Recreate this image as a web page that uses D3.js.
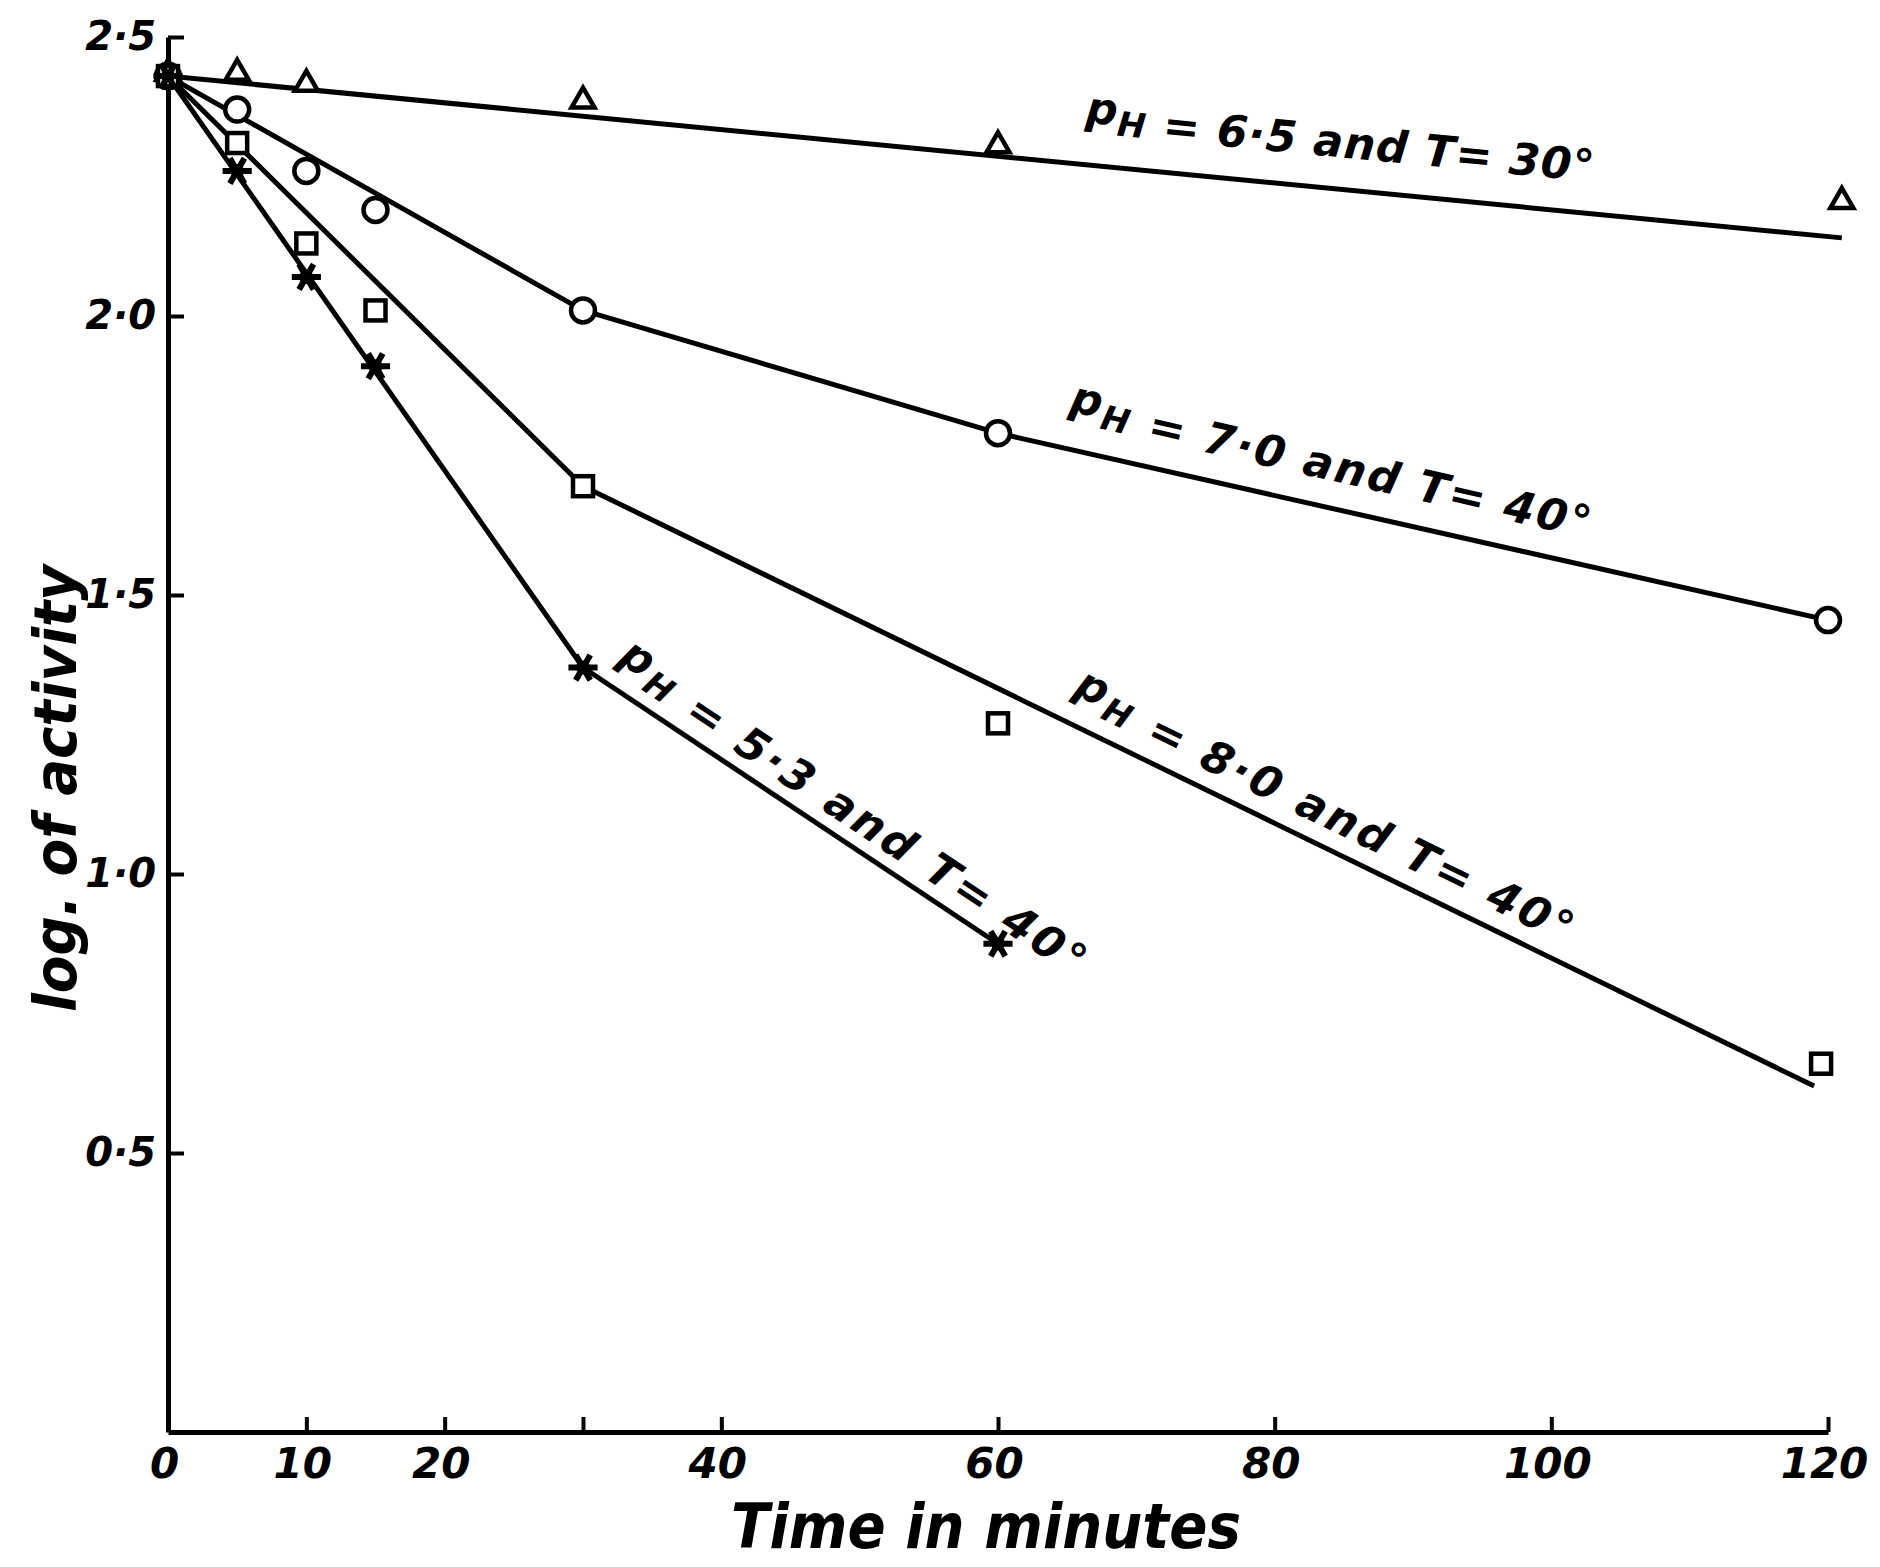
<!DOCTYPE html>
<html>
<head>
<meta charset="utf-8">
<script src="https://cdn.jsdelivr.net/npm/d3@7"></script>
<style>
  body { margin: 0; background: #fff; }
  svg { display: block; }
  text { font-family: "DejaVu Sans", sans-serif; font-style: italic; font-weight: bold; fill: #000; }
</style>
</head>
<body>
<svg id="chart" width="1880" height="1567"></svg>
<script>
// x ticks / labels
const xTicks = [0, 10, 20, 30, 40, 60, 80, 100, 120];
const xLabelled = [0, 10, 20, 40, 60, 80, 100, 120];
const yTicks = [0.5, 1.0, 1.5, 2.0, 2.5];

// measured points (time in minutes, log of activity)
const tri = [[0, 2.43], [5, 2.43], [10, 2.41], [30, 2.38], [60, 2.30], [121, 2.20]];
const circ = [[0, 2.43], [5, 2.37], [10, 2.26], [15, 2.19], [30, 2.01], [60, 1.79], [120, 1.455]];
const sq = [[0, 2.43], [5, 2.31], [10, 2.13], [15, 2.01], [30, 1.695], [60, 1.27], [119.5, 0.66]];
const star = [[0, 2.43], [5, 2.26], [10, 2.07], [15, 1.91], [30, 1.37], [60, 0.875]];

// drawn lines through the points
const triFit = [[0, 2.43], [121, 2.14]];
const circFit = [[0, 2.43], [30, 2.01], [60, 1.79], [120, 1.455]];
const sqFit = [[0, 2.43], [30, 1.695], [119, 0.62]];
const starFit = [[0, 2.43], [30, 1.37], [60, 0.875]];

// curve labels
const labelPH = ["6·5", "7·0", "8·0", "5·3"];
const labelT = ["30°", "40°", "40°", "40°"];

(function() {
  const svg = d3.select("#chart");

  const x = d3.scaleLinear().domain([0, 120]).range([168, 1828]);
  const y = d3.scaleLinear().domain([0, 2.5]).range([1432, 37]);

  const fmt = d => d === 0 ? "0" : d3.format(".1f")(d).replace(".", "·");

  // axes
  const xAxis = d3.axisBottom(x)
    .tickValues(xTicks)
    .tickSizeInner(-15).tickSizeOuter(0).tickPadding(16)
    .tickFormat(d => xLabelled.includes(d) ? d : "");
  const gx = svg.append("g").attr("transform", `translate(0,${y(0)})`).call(xAxis);
  gx.select(".domain").attr("stroke-width", 5);
  gx.selectAll(".tick line").attr("stroke-width", 4);
  gx.selectAll(".tick text").attr("font-size", 42).attr("font-family", null).attr("dx", -4);

  const yAxis = d3.axisLeft(y)
    .tickValues(yTicks)
    .tickSizeInner(-16).tickSizeOuter(0).tickPadding(12)
    .tickFormat(fmt);
  const gy = svg.append("g").attr("transform", `translate(${x(0)},0)`).call(yAxis);
  gy.select(".domain").attr("stroke-width", 5);
  gy.selectAll(".tick line").attr("stroke-width", 4);
  gy.selectAll(".tick text").attr("font-size", 40).attr("font-family", null);

  // axis titles
  svg.append("text")
    .attr("x", 731).attr("y", 1548)
    .attr("font-size", 62)
    .attr("textLength", 510).attr("lengthAdjust", "spacingAndGlyphs")
    .text("Time in minutes");

  svg.append("text")
    .attr("transform", "translate(76,1012) rotate(-90)")
    .attr("font-size", 58)
    .attr("textLength", 447).attr("lengthAdjust", "spacingAndGlyphs")
    .text("log. of activity");

  // lines
  const line = d3.line().x(d => x(d[0])).y(d => y(d[1]));
  const fits = [triFit, circFit, sqFit, starFit];
  svg.append("g").selectAll("path")
    .data(fits)
    .join("path")
    .attr("d", line)
    .attr("fill", "none")
    .attr("stroke", "#000")
    .attr("stroke-width", 5)
    .attr("stroke-linejoin", "round");

  // markers
  const mk = svg.append("g");
  mk.selectAll(".tri").data(tri).join("path")
    .attr("transform", d => `translate(${x(d[0])},${y(d[1]) - 3})`)
    .attr("d", d3.symbol(d3.symbolTriangle, 230))
    .attr("fill", "#fff").attr("stroke", "#000").attr("stroke-width", 4.5);
  mk.selectAll(".circ").data(circ).join("circle")
    .attr("cx", d => x(d[0])).attr("cy", d => y(d[1])).attr("r", 12)
    .attr("fill", "#fff").attr("stroke", "#000").attr("stroke-width", 4.5);
  mk.selectAll(".sq").data(sq).join("rect")
    .attr("x", d => x(d[0]) - 10).attr("y", d => y(d[1]) - 10)
    .attr("width", 20).attr("height", 20)
    .attr("fill", "#fff").attr("stroke", "#000").attr("stroke-width", 4.5);
  mk.selectAll(".star").data(star).join("path")
    .attr("transform", d => `translate(${x(d[0])},${y(d[1])}) rotate(30)`)
    .attr("d", d3.symbol(d3.symbolAsterisk, 600))
    .attr("fill", "none").attr("stroke", "#000").attr("stroke-width", 6);
  mk.selectAll(".starc").data(star).join("circle")
    .attr("cx", d => x(d[0])).attr("cy", d => y(d[1])).attr("r", 7);

  // labels along the lines: [fit, segment index, start time, offset, length]
  const labelPos = [
    [triFit, 0, 66, 32, 511],
    [circFit, 2, 64.5, 27, 534],
    [sqFit, 1, 64.5, 18, 552],
    [starFit, 1, 31.5, 14, 555]
  ];
  labelPos.forEach((p, i) => {
    const seg = p[0].slice(p[1], p[1] + 2);
    const x0 = x(seg[0][0]), y0 = y(seg[0][1]), x1 = x(seg[1][0]), y1 = y(seg[1][1]);
    const ang = Math.atan2(y1 - y0, x1 - x0);
    const f = (p[2] - seg[0][0]) / (seg[1][0] - seg[0][0]);
    const px = x0 + f * (x1 - x0) + Math.sin(ang) * p[3];
    const py = y0 + f * (y1 - y0) - Math.cos(ang) * p[3];
    const t = svg.append("text")
      .attr("transform", `translate(${px},${py}) rotate(${ang * 180 / Math.PI})`)
      .attr("font-size", 44)
      .attr("textLength", p[4]).attr("lengthAdjust", "spacing");
    t.append("tspan").attr("dy", -10).text("p");
    t.append("tspan").attr("dy", 10).attr("font-size", 34).text("H");
    t.append("tspan").text(" = " + labelPH[i] + " and T= " + labelT[i]);
  });
})();
</script>
</body>
</html>
